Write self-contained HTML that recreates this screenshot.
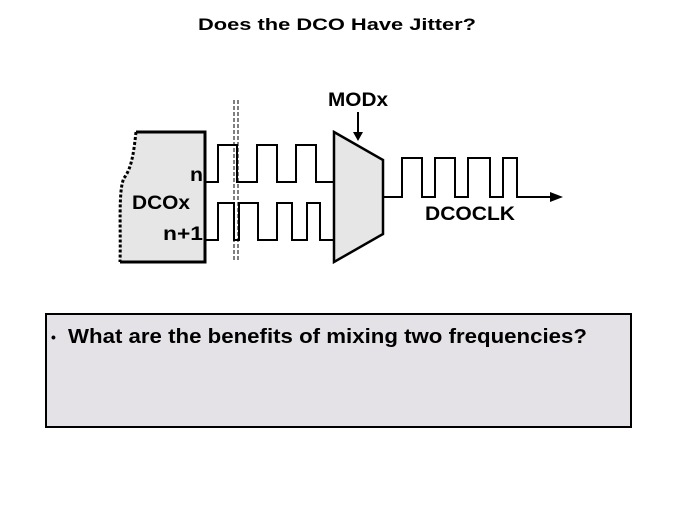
<!DOCTYPE html>
<html><head><meta charset="utf-8"><style>
html,body{margin:0;padding:0;background:#fff;}
svg{display:block;}
text{font-family:"Liberation Sans",Arial,sans-serif;font-weight:bold;fill:#000;}
</style></head><body>
<svg width="674" height="506" viewBox="0 0 674 506" xmlns="http://www.w3.org/2000/svg">
<text x="198" y="30" font-size="17" textLength="278" lengthAdjust="spacingAndGlyphs">Does the DCO Have Jitter?</text>
<!-- DCO box -->
<path d="M136,132 C134,150 132,168 124,178 C118,190 121,230 120,262 L205,262 L205,132 Z" fill="#e6e6e6" stroke="none"/>
<path d="M136,132 L205,132 L205,262 L120,262" fill="none" stroke="#000" stroke-width="3"/>
<path d="M136,132 C134,150 132,168 124,178 C118,190 121,230 120,262" fill="none" stroke="#000" stroke-width="3" stroke-dasharray="3,2"/>
<text x="190" y="181" font-size="19" textLength="13" lengthAdjust="spacingAndGlyphs">n</text>
<text x="132" y="209" font-size="19" textLength="58" lengthAdjust="spacingAndGlyphs">DCOx</text>
<text x="163" y="240" font-size="19" textLength="40" lengthAdjust="spacingAndGlyphs">n+1</text>
<!-- wave n -->
<polyline points="205,182 218,182 218,145 237,145 237,182 257,182 257,145 277,145 277,182 296,182 296,145 316,145 316,182 334,182" fill="none" stroke="#000" stroke-width="2"/>
<!-- wave n+1 -->
<polyline points="205,240 218,240 218,203 234,203 234,240 239,240 239,203 258,203 258,240 277,240 277,203 292,203 292,240 307,240 307,203 320,203 320,240 334,240" fill="none" stroke="#000" stroke-width="2"/>
<!-- dashed verticals -->
<line x1="234" y1="100" x2="234" y2="260" stroke="#000" stroke-width="1" stroke-dasharray="4,2"/>
<line x1="238" y1="100" x2="238" y2="260" stroke="#000" stroke-width="1" stroke-dasharray="4,2"/>
<!-- mux -->
<polygon points="334,132 383,160 383,234 334,262" fill="#e6e6e6" stroke="#000" stroke-width="2.5"/>
<text x="328" y="106" font-size="19" textLength="60" lengthAdjust="spacingAndGlyphs">MODx</text>
<line x1="358" y1="112" x2="358" y2="133" stroke="#000" stroke-width="2"/>
<polygon points="353,132 363,132 358,141" fill="#000"/>
<!-- output -->
<polyline points="383,197 402,197 402,158 422,158 422,197 435,197 435,158 455,158 455,197 468,197 468,158 490,158 490,197 503,197 503,158 517,158 517,197 552,197" fill="none" stroke="#000" stroke-width="2"/>
<polygon points="550,192 563,197 550,202" fill="#000"/>
<text x="425" y="220" font-size="19" textLength="90" lengthAdjust="spacingAndGlyphs">DCOCLK</text>
<!-- bottom box -->
<rect x="46" y="314" width="585" height="113" fill="#e4e2e6" stroke="#000" stroke-width="2"/>
<text x="51" y="342" font-size="14">•</text>
<text x="68" y="343" font-size="20" textLength="519" lengthAdjust="spacingAndGlyphs">What are the benefits of mixing two frequencies?</text>
</svg>
</body></html>
